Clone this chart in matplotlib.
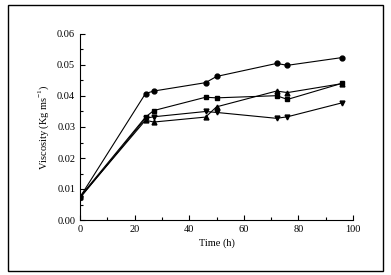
import matplotlib
matplotlib.use('Agg')
import matplotlib.pyplot as plt
from matplotlib.patches import Rectangle
from matplotlib.ticker import MultipleLocator

plt.rcParams['font.family'] = 'Liberation Serif'
plt.rcParams['mathtext.fontset'] = 'custom'
plt.rcParams['mathtext.rm'] = 'Liberation Serif'

time = [0, 24, 27, 46, 50, 72, 76, 96]
circles = [0.0074, 0.0408, 0.0416, 0.0443, 0.0463, 0.0505, 0.0499, 0.0524]
squares = [0.0075, 0.0332, 0.0353, 0.0396, 0.0394, 0.0401, 0.0389, 0.0441]
up_tri = [0.0073, 0.0322, 0.0316, 0.0332, 0.0365, 0.0416, 0.0411, 0.0440]
down_tri = [0.0071, 0.0328, 0.0333, 0.0350, 0.0347, 0.0328, 0.0333, 0.0378]

fig = plt.figure(figsize=(3.91, 2.75), dpi=100)
fig.patches.append(Rectangle((8 / 391, 4 / 275), 375 / 391, 266 / 275,
                             transform=fig.transFigure, fill=False,
                             edgecolor='black', linewidth=1.0))
ax = fig.add_axes([80 / 391, 55 / 275, 273 / 391, 186 / 275])

kw = dict(color='black', linewidth=0.8, markersize=3.5)
ax.plot(time, circles, marker='o', **kw)
ax.plot(time, squares, marker='s', **kw)
ax.plot(time, up_tri, marker='^', **kw)
ax.plot(time, down_tri, marker='v', **kw)

ax.set_xlim(0, 100)
ax.set_ylim(0, 0.06)
ax.xaxis.set_major_locator(MultipleLocator(20))
ax.xaxis.set_minor_locator(MultipleLocator(10))
ax.yaxis.set_major_locator(MultipleLocator(0.01))
ax.yaxis.set_minor_locator(MultipleLocator(0.005))
ax.yaxis.set_major_formatter(plt.FormatStrFormatter('%.2f'))
ax.spines['top'].set_visible(False)
ax.spines['right'].set_visible(False)
ax.tick_params(which='both', direction='in', labelsize=7.5, width=0.8)
ax.tick_params(which='major', length=3.5)
ax.tick_params(which='minor', length=2)
ax.set_xlabel('Time (h)', fontsize=7.5, labelpad=3)
ax.set_ylabel('Viscosity (Kg ms$^{-1}$)', fontsize=7.5, labelpad=4)

plt.savefig('out.png', dpi=100)
